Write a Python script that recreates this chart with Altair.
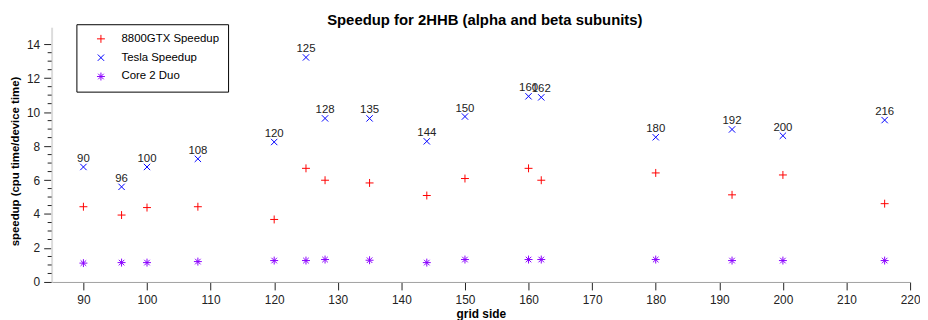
import altair as alt
import pandas as pd

# ---- data ----
grid = [90, 96, 100, 108, 120, 125, 128, 135, 144, 150, 160, 162, 180, 192, 200, 216]
gtx8800 = [4.43, 3.94, 4.38, 4.43, 3.68, 6.69, 5.99, 5.83, 5.09, 6.09, 6.69, 5.99, 6.42, 5.13, 6.30, 4.61]
tesla = [6.77, 5.60, 6.77, 7.25, 8.24, 13.22, 9.63, 9.63, 8.28, 9.74, 10.93, 10.87, 8.52, 8.98, 8.61, 9.53]
core2 = [1.11, 1.14, 1.14, 1.20, 1.26, 1.26, 1.32, 1.28, 1.14, 1.32, 1.32, 1.32, 1.32, 1.26, 1.26, 1.26]

series_names = ["8800GTX Speedup", "Tesla Speedup", "Core 2 Duo"]
series_colors = ["#ff0000", "#0000ff", "#8a00ff"]
series_shapes = [
    "M-1,0L1,0M0,-1L0,1",
    "M-0.8,-0.8L0.8,0.8M-0.8,0.8L0.8,-0.8",
    "M-1,0L1,0M0,-1L0,1M-0.7,-0.7L0.7,0.7M-0.7,0.7L0.7,-0.7",
]

x_ticks = [90, 100, 110, 120, 130, 140, 150, 160, 170, 180, 190, 200, 210, 220]
y_major = [0, 2, 4, 6, 8, 10, 12, 14]
y_minor = [0.5, 1, 1.5, 2.5, 3, 3.5, 4.5, 5, 5.5, 6.5, 7, 7.5, 8.5, 9, 9.5,
           10.5, 11, 11.5, 12.5, 13, 13.5]

rows = []
for name, vals in zip(series_names, [gtx8800, tesla, core2]):
    for g, v in zip(grid, vals):
        rows.append({"series": name, "grid": g, "value": v, "label": str(g)})
df = pd.DataFrame(rows)
minor_df = pd.DataFrame({"value": y_minor})

FONT = "Liberation Sans"

x_enc = alt.X(
    "grid:Q",
    scale=alt.Scale(domain=[85, 220], nice=False, zero=False),
    axis=alt.Axis(
        values=x_ticks, title="grid side", grid=False,
        domainColor="#a0a0a0", domainWidth=1,
        tickColor="#222222", tickSize=8, tickWidth=1,
        labelFont=FONT, labelFontSize=12, labelColor="#222222", labelPadding=5,
        titleFont=FONT, titleFontSize=12, titleFontWeight="bold", titleColor="#000000",
        titlePadding=3, labelFlush=False,
    ),
)
y_scale = alt.Scale(domain=[0, 15], nice=False)
y_enc = alt.Y(
    "value:Q",
    scale=y_scale,
    axis=alt.Axis(
        values=y_major, format="d", labelOverlap=False, grid=False,
        title="speedup (cpu time/device time)",
        domainColor="#dcdcdc", domainWidth=2,
        tickColor="#222222", tickWidth=1, tickSize=8,
        labelFont=FONT, labelFontSize=12, labelColor="#222222", labelPadding=4,
        titleFont=FONT, titleFontSize=11.5, titleFontWeight="bold", titleColor="#000000",
        titleAngle=270, titleAlign="center", titleBaseline="middle",
        titleX=-36, titleY=135,
    ),
)

legend_kw = dict(
    orient="none", legendX=25, legendY=-3, title=None,
    fillColor="white", strokeColor="black",
    padding=9, symbolOffset=10, labelOffset=15, rowPadding=6,
    symbolSize=64, symbolStrokeWidth=1,
    labelFont=FONT, labelFontSize=11.5, labelColor="#000000",
)

minor_ticks = alt.Chart(minor_df).mark_rule(color="#222222", strokeWidth=1).encode(
    x=alt.value(-4), x2=alt.value(0),
    y=y_enc,
)

points = alt.Chart(df).mark_point(filled=False, strokeWidth=1, size=64, opacity=1).encode(
    x=x_enc,
    y=y_enc,
    color=alt.Color("series:N", scale=alt.Scale(domain=series_names, range=series_colors),
                    legend=alt.Legend(**legend_kw)),
    shape=alt.Shape("series:N", scale=alt.Scale(domain=series_names, range=series_shapes),
                    legend=alt.Legend(**legend_kw)),
)

labels = alt.Chart(df).transform_filter(
    alt.datum.series == "Tesla Speedup"
).mark_text(font=FONT, fontSize=11.5, color="#222222", baseline="alphabetic", dy=-5).encode(
    x=x_enc, y=y_enc, text="label:N"
)

chart = alt.layer(points, minor_ticks, labels).properties(
    width=866, height=257,
    padding={"left": 44, "top": 18, "right": 10, "bottom": 37},
    autosize=alt.AutoSizeParams(type="none"),
    background="white",
    title=alt.TitleParams(
        "Speedup for 2HHB (alpha and beta subunits)",
        font=FONT, fontSize=15, fontWeight="bold", color="#000000",
        anchor="middle", baseline="alphabetic", offset=-16, dx=4, frame="group",
    ),
).configure_view(strokeWidth=0, stroke="transparent").configure_legend(strokeWidth=1)

chart.save("out.html", embed_options={"renderer": "svg", "actions": False})
